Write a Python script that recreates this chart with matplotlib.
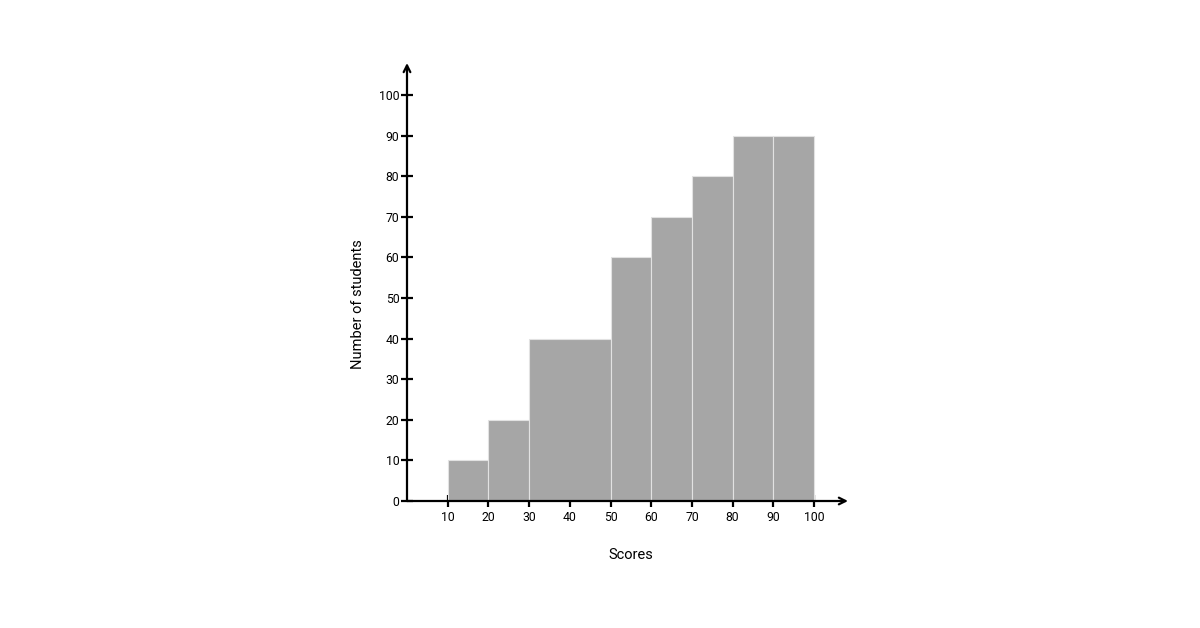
import matplotlib
matplotlib.use("Agg")
import matplotlib.pyplot as plt

plt.rcParams['font.family'] = ['Roboto', 'DejaVu Sans']

# Data
bin_left = [10, 20, 30, 50, 60, 70, 80, 90]
bin_width = [10, 10, 20, 10, 10, 10, 10, 10]
counts = [10, 20, 40, 60, 70, 80, 90, 90]
x_ticks = [10, 20, 30, 40, 50, 60, 70, 80, 90, 100]
y_ticks = [0, 10, 20, 30, 40, 50, 60, 70, 80, 90, 100]
x_label = "Scores"
y_label = "Number of students"

fig = plt.figure(figsize=(12, 6.28), dpi=100)
W, H = 1200, 628
x0, y0 = 407, 501
x1, y1 = 848, 63
ax = fig.add_axes([x0 / W, (H - y0) / H, (x1 - x0) / W, (y0 - y1) / H])

px_per_unit_x = (814 - 407) / 100
px_per_unit_y = (501 - 95) / 100
ax.set_xlim(0, (x1 - x0) / px_per_unit_x)
ax.set_ylim(0, (y0 - y1) / px_per_unit_y)

ax.bar(bin_left, counts, width=bin_width, align='edge', color='#a6a6a6',
       edgecolor='#e2e2e2', linewidth=0.8, zorder=2)

for s in ax.spines.values():
    s.set_visible(False)

xmax = ax.get_xlim()[1]
ymax = ax.get_ylim()[1]
arrow = dict(arrowstyle='->', lw=1.6, color='black', mutation_scale=12,
             shrinkA=0, shrinkB=0)
ax.annotate('', xy=(xmax, 0), xytext=(0, 0), arrowprops=arrow,
            annotation_clip=False, zorder=5)
ax.annotate('', xy=(0, ymax), xytext=(0, 0), arrowprops=arrow,
            annotation_clip=False, zorder=5)

ax.set_xticks(x_ticks)
ax.set_yticks(y_ticks)
ax.tick_params(axis='both', direction='inout', length=8, width=1.6,
               labelsize=8.8, colors='black')
ax.tick_params(axis='x', pad=3.5)
ax.tick_params(axis='y', pad=1.5)

ax.set_xlabel(x_label, fontsize=10.5)
ax.set_ylabel(y_label, fontsize=10.5)
ax.xaxis.set_label_coords((631 - x0) / (x1 - x0), -(555 - y0) / (y0 - y1))
ax.yaxis.set_label_coords(-(407 - 358) / (x1 - x0), (501 - 304) / (y0 - y1))
ax.xaxis.label.set_va('center')
ax.yaxis.label.set_va('center')

fig.savefig('out.png', dpi=100)
